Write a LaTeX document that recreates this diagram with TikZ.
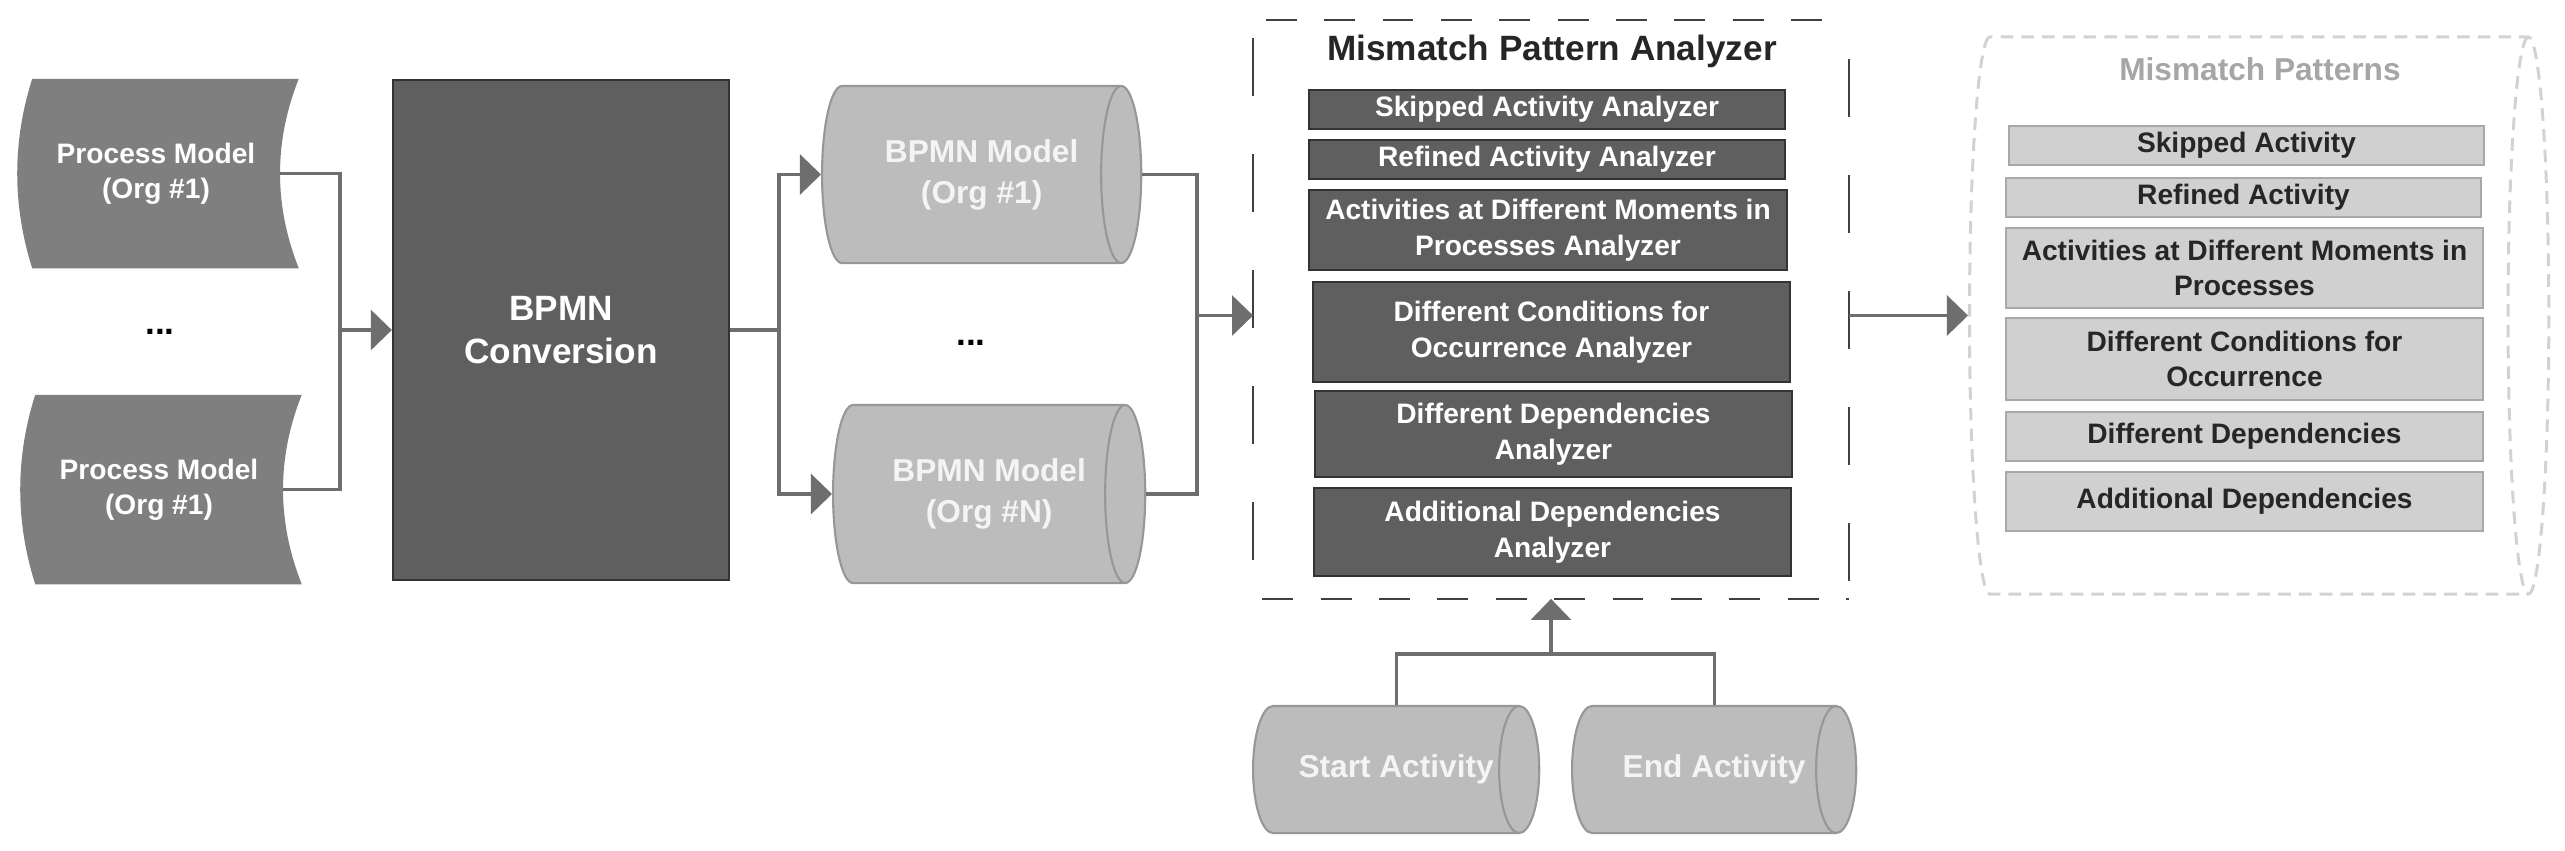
\documentclass[tikz,border=0pt]{standalone}
\usepackage{fontspec}
\setmainfont{Liberation Sans}
\usepackage[HTML]{xcolor}
\usepackage{tikz}
\usetikzlibrary{positioning, arrows.meta, shapes.geometric, calc, backgrounds}

\definecolor{pmgrey}{HTML}{7F7F7F}
\definecolor{convgrey}{HTML}{5F5F5F}
\definecolor{convline}{HTML}{333333}
\definecolor{bmgrey}{HTML}{BCBCBC}
\definecolor{bmline}{HTML}{979797}
\definecolor{bmtext}{HTML}{F4F4F4}
\definecolor{linegrey}{HTML}{6E6E6E}
\definecolor{boxdash}{HTML}{404040}
\definecolor{patgrey}{HTML}{D0D0D0}
\definecolor{patline}{HTML}{A8A8A8}
\definecolor{pattext}{HTML}{262626}
\definecolor{mpdash}{HTML}{D2D2D2}
\definecolor{mptitle}{HTML}{A6A6A6}

\begin{document}
\begin{tikzpicture}[x=0.01cm, y=-0.01cm,
  line/.style={draw=linegrey, line width=0.9pt},
  arrow/.style={line, -{Triangle[length=6pt,width=11.4pt]}},
  procbox/.style={minimum width=2.46cm, minimum height=1.88cm, inner sep=0pt,
    text=white, font=\fontsize{8}{10}\selectfont\bfseries, align=center},
  convbox/.style={rectangle, fill=convgrey, draw=convline, line width=0.6pt, inner sep=0pt,
    minimum width=3.36cm, minimum height=5cm, text=white,
    font=\fontsize{10}{12.2}\selectfont\bfseries, align=center},
  store/.style={cylinder, anchor=west, aspect=0.57, fill=bmgrey, draw=bmline, line width=0.6pt,
    inner xsep=0pt, inner ysep=10pt},
  storetext/.style={text=bmtext, font=\fontsize{9}{11.7}\selectfont\bfseries, align=center},
  anbox/.style={rectangle, fill=convgrey, draw=convline, line width=0.6pt, inner sep=0pt,
    text=white, font=\fontsize{8}{10.2}\selectfont\bfseries, align=center},
  patbox/.style={rectangle, fill=patgrey, draw=patline, line width=0.6pt, inner sep=0pt,
    text=pattext, font=\fontsize{8}{10}\selectfont\bfseries, align=center},
  hdash/.style={draw=boxdash, line width=0.7pt, dash pattern=on 8.8pt off 7.8pt},
  vdash/.style={draw=boxdash, line width=0.7pt, dash pattern=on 16.5pt off 16.5pt}]
\useasboundingbox (0,0) rectangle (2565,850);

% process models
\node[procbox] (pm1) at (156,173.5) {Process Model\\(Org \#1)};
\node[procbox] (pm2) at (159,489.5) {Process Model\\(Org \#1)};
\node[font=\fontsize{10}{12}\selectfont\bfseries] (dots1) at (160,332) {...};
\begin{scope}[on background layer]
\foreach \n in {pm1,pm2}
  \fill[pmgrey] (\n.north west) .. controls +(-20,63) and +(-20,-63) .. (\n.south west)
    -- ($(\n.south east)+(19,0)$) .. controls +(-25,-63) and +(-25,63) .. ($(\n.north east)+(19,0)$) -- cycle;
\end{scope}

% conversion
\node[convbox] (conv) at (561,330) {BPMN\\Conversion};

% bpmn models (cylinder: height runs along the axis)
\node[store, minimum height=3.19cm, minimum width=1.77cm] (bm1) at (821,174.5) {};
\node[storetext] (bm1text) at (bm1.shape center) {BPMN Model\\(Org \#1)};
\node[store, minimum height=3.12cm, minimum width=1.78cm] (bmN) at (832,494) {};
\node[storetext] (bmNtext) at (bmN.shape center) {BPMN Model\\(Org \#N)};
\node[font=\fontsize{10}{12}\selectfont\bfseries] (dots2) at (971,343) {...};

% analyzer
\node[minimum width=5.94cm, minimum height=5.77cm] (mpa) at (1551,309.5) {};
\draw[hdash, dash phase=13pt] (mpa.north west) -- (mpa.north east);
\draw[hdash, dash phase=14pt] (mpa.south west) -- (mpa.south east);
\draw[vdash, dash phase=28pt] (mpa.north west) -- (mpa.south west);
\draw[vdash, dash phase=22pt] (mpa.north east) -- (mpa.south east);
\node[text=pattext, font=\fontsize{10}{12}\selectfont\bfseries] (mpatitle) at (1552,51) {Mismatch Pattern Analyzer};
\node[anbox, minimum width=4.76cm, minimum height=0.39cm] (an1) at (1547,109.5) {Skipped Activity Analyzer};
\node[anbox, minimum width=4.76cm, minimum height=0.39cm] (an2) at (1547,159.5) {Refined Activity Analyzer};
\node[anbox, minimum width=4.78cm, minimum height=0.80cm] (an3) at (1548,230) {Activities at Different Moments in\\Processes Analyzer};
\node[anbox, minimum width=4.77cm, minimum height=1.00cm] (an4) at (1551.5,332) {Different Conditions for\\Occurrence Analyzer};
\node[anbox, minimum width=4.77cm, minimum height=0.86cm] (an5) at (1553.5,434) {Different Dependencies\\Analyzer};
\node[anbox, minimum width=4.77cm, minimum height=0.88cm] (an6) at (1552.5,532) {Additional Dependencies\\Analyzer};

% mismatch patterns
\node[cylinder, anchor=west, aspect=0.29, draw=mpdash, line width=0.85pt, dash pattern=on 3.6pt off 2.3pt,
  minimum height=5.79cm, minimum width=5.57cm, inner sep=20pt] (mp) at (1968,315.5) {};
\node[text=mptitle, font=\fontsize{9}{11}\selectfont\bfseries] (mptitle) at (2260,69) {Mismatch Patterns};
\node[patbox, minimum width=4.75cm, minimum height=0.39cm] (pat1) at (2246.5,145.5) {Skipped Activity};
\node[patbox, minimum width=4.75cm, minimum height=0.39cm] (pat2) at (2243.5,197.5) {Refined Activity};
\node[patbox, minimum width=4.77cm, minimum height=0.80cm] (pat3) at (2244.5,268) {Activities at Different Moments in\\Processes};
\node[patbox, minimum width=4.77cm, minimum height=0.82cm] (pat4) at (2244.5,359) {Different Conditions for\\Occurrence};
\node[patbox, minimum width=4.77cm, minimum height=0.49cm] (pat5) at (2244.5,436.5) {Different Dependencies};
\node[patbox, minimum width=4.77cm, minimum height=0.59cm] (pat6) at (2244.5,501.5) {Additional Dependencies};

% start and end activity
\node[store, minimum height=2.86cm, minimum width=1.27cm] (start) at (1252,769.5) {};
\node[storetext] (starttext) at (start.shape center) {Start Activity};
\node[store, minimum height=2.84cm, minimum width=1.27cm] (endact) at (1571,769.5) {};
\node[storetext] (endtext) at (endact.shape center) {End Activity};

% connectors
\coordinate (j1) at (340,0 |- conv.west);
\draw[line] (pm1.east) -| (j1);
\draw[line] (pm2.east) -| (j1);
\draw[arrow] (j1) -- (conv.west);
\coordinate (j2) at (779,0 |- conv.east);
\draw[line] (conv.east) -- (j2);
\draw[arrow] (j2) |- (bm1.west);
\draw[arrow] (j2) |- (bmN.west);
\coordinate (j3) at (1197,0 |- mp.west);
\draw[line] (bm1.east) -| (j3);
\draw[line] (bmN.east) -| (j3);
\draw[arrow] (j3) -- (mpa.west |- j3);
\draw[arrow] (mpa.east |- mp.west) -- (mp.west);
\coordinate (j4) at (mpa.south |- 0,654);
\draw[line] (starttext |- start.north) |- (j4);
\draw[line] (endtext |- endact.north) |- (j4);
\draw[arrow] (j4) -- (mpa.south);
\end{tikzpicture}
\end{document}
